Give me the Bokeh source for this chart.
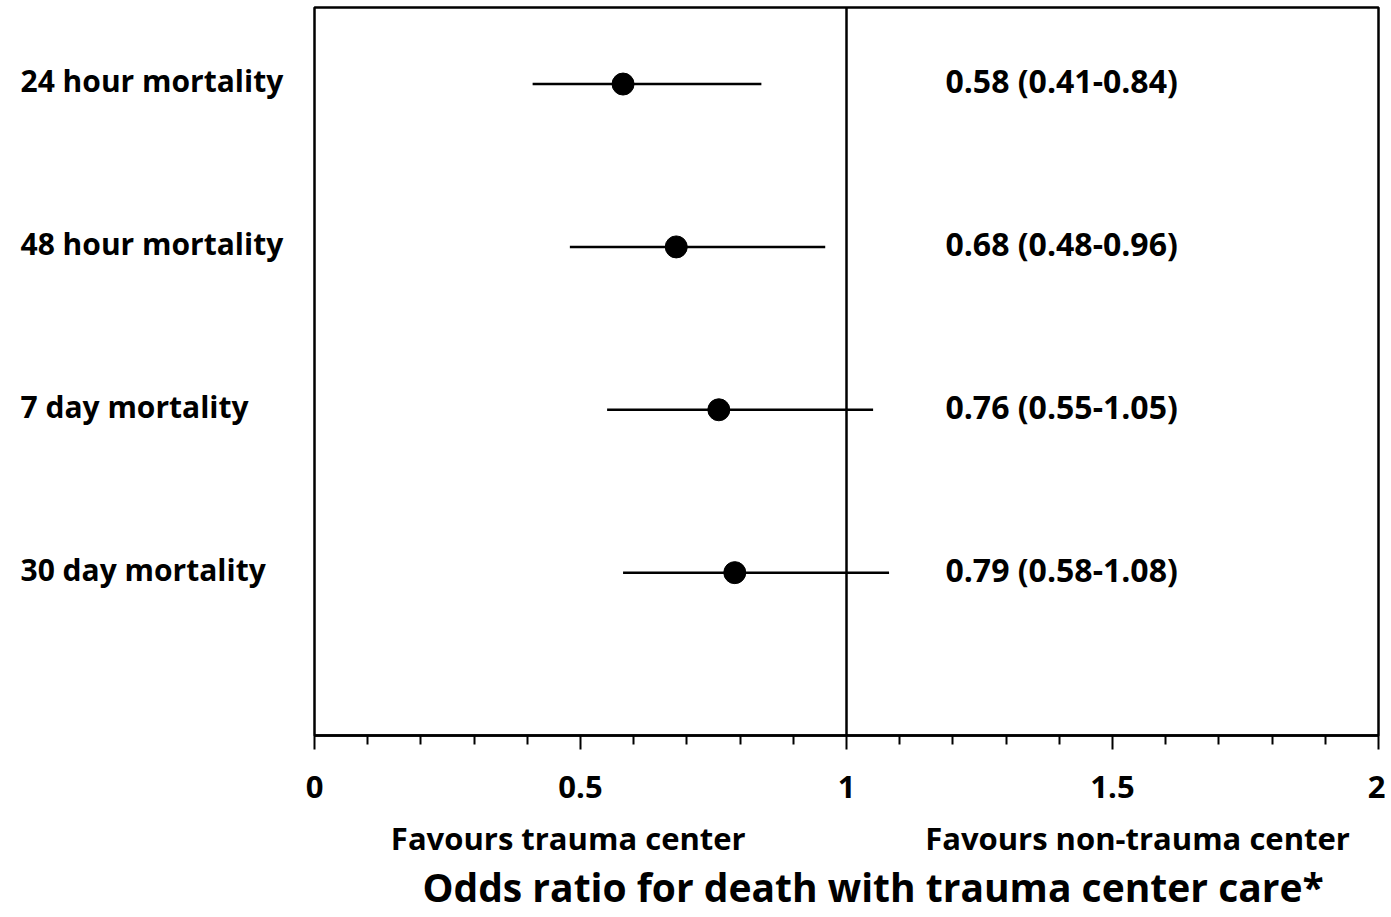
from bokeh.plotting import figure
from bokeh.models import Range1d, FixedTicker, Span, ColumnDataSource
from bokeh.layouts import row, column
from bokeh.core.properties import value
from bokeh.embed import file_html
from bokeh.resources import INLINE

outcomes = ["24 hour mortality", "48 hour mortality", "7 day mortality", "30 day mortality"]
odds = [0.58, 0.68, 0.76, 0.79]
lower = [0.41, 0.48, 0.55, 0.58]
upper = [0.84, 0.96, 1.05, 1.08]
rows = [4, 3, 2, 1]
major_ticks = [0, 0.5, 1, 1.5, 2]
minor_ticks = [0.1, 0.2, 0.3, 0.4, 0.6, 0.7, 0.8, 0.9, 1.1, 1.2, 1.3, 1.4, 1.6, 1.7, 1.8, 1.9]
notes = ["Favours trauma center", "Favours non-trauma center"]
note_x = [0.477, 1.547]
x_title = "Odds ratio for death with trauma center care*"

FONT = "Open Sans"
labels_right = [f"{o:.2f} ({l:.2f}-{u:.2f})" for o, l, u in zip(odds, lower, upper)]
label_y = [r + 0.02 for r in rows]

src = ColumnDataSource(dict(y=rows, ly=label_y, odds=odds, lower=lower, upper=upper,
                            name=outcomes, txt=labels_right))

xr = Range1d(0, 2)
yr = Range1d(0, 4.47)
TOP_H = 815
BOT_BORDER = 80
LEFT_W = 300
BOT_H = 98

# main forest plot
p = figure(width=1085, height=TOP_H, output_backend="svg", toolbar_location=None,
           x_range=xr, y_range=yr, y_axis_location=None,
           min_border_left=14, min_border_right=7, min_border_top=7, min_border_bottom=BOT_BORDER)
p.background_fill_color = "white"
p.border_fill_color = "white"
p.grid.visible = False
p.outline_line_color = "black"
p.outline_line_width = 2.5

ax = p.xaxis[0]
ax.ticker = FixedTicker(ticks=major_ticks, minor_ticks=minor_ticks)
ax.major_label_overrides = {0: "0", 0.5: "0.5", 1: "1", 1.5: "1.5", 2: "2"}
ax.axis_line_width = 2.5
ax.axis_line_color = "black"
ax.major_tick_line_width = 2
ax.minor_tick_line_width = 2
ax.major_tick_in = 0
ax.major_tick_out = 14
ax.minor_tick_in = 0
ax.minor_tick_out = 9
ax.major_label_standoff = 26
ax.major_label_text_font = FONT
ax.major_label_text_font_style = "bold"
ax.major_label_text_font_size = "31px"
ax.major_label_text_color = "black"

p.add_layout(Span(location=1, dimension="height", line_color="black", line_width=2.5))

p.segment(x0="lower", x1="upper", y0="y", y1="y", source=src, line_color="black", line_width=2.5)
p.scatter(x="odds", y="y", source=src, size=22, color="black")
p.text(x=1.186, y="ly", text="txt", source=src, text_align="left", text_baseline="middle",
       text_font=value(FONT), text_font_style="bold", text_font_size="32px", text_color="black")

# left labels panel
lf = figure(width=LEFT_W, height=TOP_H, output_backend="svg", toolbar_location=None,
            x_range=Range1d(0, LEFT_W), y_range=yr, x_axis_location=None, y_axis_location=None,
            min_border_left=0, min_border_right=0, min_border_top=7, min_border_bottom=BOT_BORDER)
lf.grid.visible = False
lf.outline_line_color = None
lf.background_fill_color = "white"
lf.border_fill_color = "white"
lf.text(x=20, y="ly", text="name", source=src, text_align="left", text_baseline="middle",
        text_font=value(FONT), text_font_style="bold", text_font_size="30px", text_color="black")

# bottom notes and title panel
bsrc = ColumnDataSource(dict(x=note_x, y=[22, 22], t=notes))
bf = figure(width=1385, height=BOT_H, output_backend="svg", toolbar_location=None,
            x_range=xr, y_range=Range1d(BOT_H, 0), x_axis_location=None, y_axis_location=None,
            min_border_left=314, min_border_right=7, min_border_top=0, min_border_bottom=0)
bf.grid.visible = False
bf.outline_line_color = None
bf.background_fill_color = "white"
bf.border_fill_color = "white"
bf.text(x="x", y="y", text="t", source=bsrc, text_align="center", text_baseline="middle",
        text_font=value(FONT), text_font_style="bold", text_font_size="31px", text_color="black")
bf.text(x=[1.05], y=[71], text=[x_title], text_align="center", text_baseline="middle",
        text_font=value(FONT), text_font_style="bold", text_font_size="39px", text_color="black")

layout = column(row(lf, p, spacing=0), bf, spacing=0)
open("out.html", "w").write(file_html(layout, INLINE))
